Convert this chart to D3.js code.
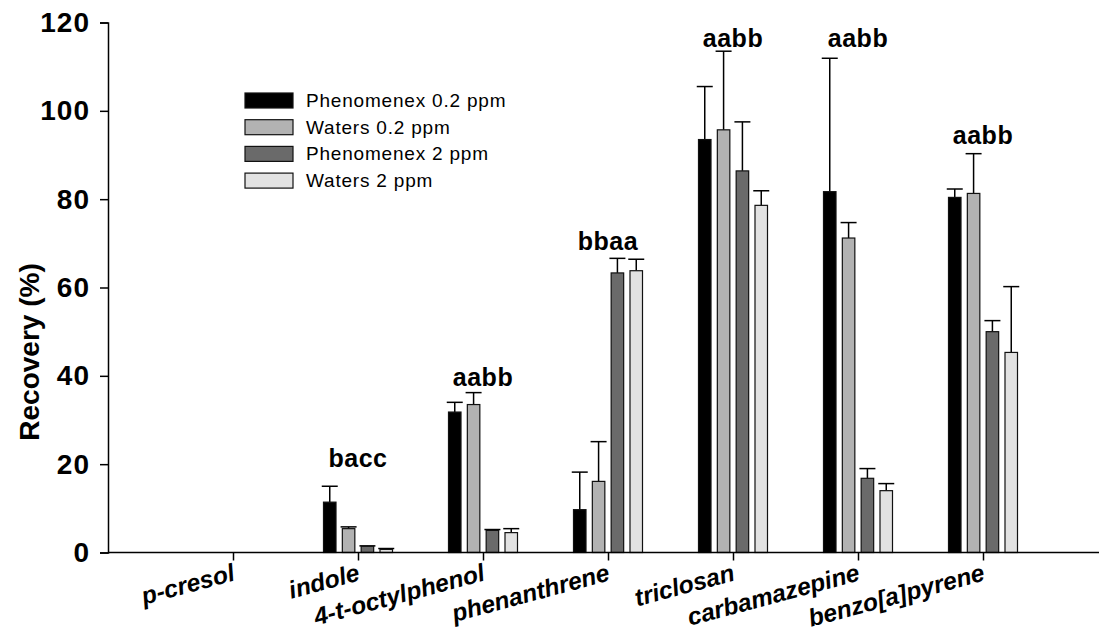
<!DOCTYPE html>
<html>
<head>
	<meta charset="utf-8">
	<script src="https://cdn.jsdelivr.net/npm/d3@7"></script>
	<title>Recovery</title>
	<style>
		body { margin: 0; background: #fff; }
		text { font-family: "Liberation Sans", Arial, sans-serif; }
	</style>
</head>
<body>
	<script type="text/javascript">
		var compounds = ["p-cresol", "indole", "4-t-octylphenol", "phenanthrene", "triclosan", "carbamazepine", "benzo[a]pyrene"];
		var seriesNames = ["Phenomenex 0.2 ppm", "Waters 0.2 ppm", "Phenomenex 2 ppm", "Waters 2 ppm"];
		var seriesFill = ["#000000", "#b2b2b2", "#6a6a6a", "#e2e2e2"];

		// mean recovery (%) per compound, null = not detected
		var phen02 = [null, 11.4, 31.8, 9.7, 93.5, 81.7, 80.4];
		var wat02  = [null, 5.4, 33.5, 16.1, 95.7, 71.2, 81.3];
		var phen2  = [null, 1.4, 5.0, 63.3, 86.4, 16.8, 50.0];
		var wat2   = [null, 0.7, 4.5, 63.8, 78.6, 14.0, 45.3];

		// upper end of error bar (%)
		var phen02Err = [null, 15.0, 34.0, 18.2, 105.5, 111.9, 82.3];
		var wat02Err  = [null, 5.8, 36.2, 25.1, 113.5, 74.7, 90.3];
		var phen2Err  = [null, 1.5, 5.2, 66.6, 97.5, 19.0, 52.5];
		var wat2Err   = [null, 0.9, 5.4, 66.4, 81.9, 15.6, 60.2];

		var letters = [null, "bacc", "aabb", "bbaa", "aabb", "aabb", "aabb"];
		var letterAt = [null, 19.4, 37.7, 68.5, 114.5, 114.5, 92.6];

		var yTicks = [0, 20, 40, 60, 80, 100, 120];

		var means = [phen02, wat02, phen2, wat2];
		var errs = [phen02Err, wat02Err, phen2Err, wat2Err];

		var W = 1099, H = 631;
		var svg = d3.select("body").append("svg")
			.attr("width", W)
			.attr("height", H);

		var x = d3.scalePoint().domain(compounds).range([108, 1108]).padding(1);
		var xs = d3.scaleBand().domain(d3.range(4)).range([-34.5, 34.5]).paddingInner(0.336);
		var y = d3.scaleLinear().domain([0, 120]).range([552.5, 22.5]);

		// bars
		var bars = [];
		compounds.forEach(function(c, i) {
			for (var s = 0; s < 4; s++) {
				if (means[s][i] != null)
					bars.push({c: c, s: s, v: means[s][i], e: errs[s][i]});
			}
		});

		// error bars first (line goes from bar top up)
		var eb = svg.append("g").selectAll("g").data(bars).enter().append("g");
		eb.append("line")
			.attr("x1", function(d) { return x(d.c) + xs(d.s) + xs.bandwidth() / 2; })
			.attr("x2", function(d) { return x(d.c) + xs(d.s) + xs.bandwidth() / 2; })
			.attr("y1", function(d) { return y(d.v); })
			.attr("y2", function(d) { return y(d.e); })
			.attr("stroke", "#000").attr("stroke-width", 1.5);
		eb.append("line")
			.attr("x1", function(d) { return x(d.c) + xs(d.s) + xs.bandwidth() / 2 - 8; })
			.attr("x2", function(d) { return x(d.c) + xs(d.s) + xs.bandwidth() / 2 + 8; })
			.attr("y1", function(d) { return y(d.e); })
			.attr("y2", function(d) { return y(d.e); })
			.attr("stroke", "#000").attr("stroke-width", 1.5);

		svg.append("g").selectAll("rect").data(bars).enter().append("rect")
			.attr("x", function(d) { return x(d.c) + xs(d.s); })
			.attr("width", xs.bandwidth())
			.attr("y", function(d) { return y(d.v); })
			.attr("height", function(d) { return y(0) - y(d.v); })
			.attr("fill", function(d) { return seriesFill[d.s]; })
			.attr("stroke", "#111")
			.attr("stroke-width", 1.2);

		// significance letters
		svg.append("g").selectAll("text").data(compounds.filter(function(c, i) { return letters[i]; }))
			.enter().append("text")
			.attr("x", function(c) { return x(c); })
			.attr("y", function(c) { return y(letterAt[compounds.indexOf(c)]); })
			.attr("text-anchor", "middle")
			.attr("font-size", 25).attr("font-weight", "bold")
			.attr("letter-spacing", 0.5)
			.text(function(c) { return letters[compounds.indexOf(c)]; });

		// y axis
		var yAxis = svg.append("g")
			.attr("transform", "translate(108,0)")
			.call(d3.axisLeft(y).tickValues(yTicks).tickSize(8).tickPadding(10));
		yAxis.selectAll("text").attr("font-size", 28).attr("font-weight", "bold")
			.attr("letter-spacing", 1)
			.attr("font-family", "Liberation Sans, Arial, sans-serif").attr("fill", "#000");
		yAxis.selectAll("line, path").attr("stroke", "#000").attr("stroke-width", 1.5);

		// x axis
		var xAxis = svg.append("g")
			.attr("transform", "translate(0,552.5)")
			.call(d3.axisBottom(x).tickSize(8).tickSizeOuter(0).tickFormat(""));
		xAxis.select("path").attr("d", "M108,0H1099");
		xAxis.selectAll("line, path").attr("stroke", "#000").attr("stroke-width", 1.5);

		// category labels, tilted, right end at the tick
		svg.append("g").selectAll("text").data(compounds).enter().append("text")
			.attr("transform", function(c) {
				return "translate(" + (x(c) + 3) + ",580) rotate(-15)";
			})
			.attr("text-anchor", "end")
			.attr("font-size", 24.5).attr("font-weight", "bold").attr("font-style", "italic")
			.text(function(c) { return c; });

		svg.append("text")
			.attr("transform", "translate(39,352) rotate(-90)")
			.attr("text-anchor", "middle")
			.attr("font-size", 28).attr("font-weight", "bold")
			.text("Recovery (%)");

		// legend
		var lg = svg.append("g").attr("transform", "translate(245,93)");
		var row = lg.selectAll("g").data(seriesNames).enter().append("g")
			.attr("transform", function(d, i) { return "translate(0," + (i * 26.7) + ")"; });
		row.append("rect")
			.attr("width", 48).attr("height", 15)
			.attr("fill", function(d, i) { return seriesFill[i]; })
			.attr("stroke", "#111").attr("stroke-width", 1.2);
		row.append("text")
			.attr("x", 61).attr("y", 14)
			.attr("font-size", 19)
			.attr("letter-spacing", 0.8)
			.text(function(d) { return d; });
	</script>
</body>
</html>
